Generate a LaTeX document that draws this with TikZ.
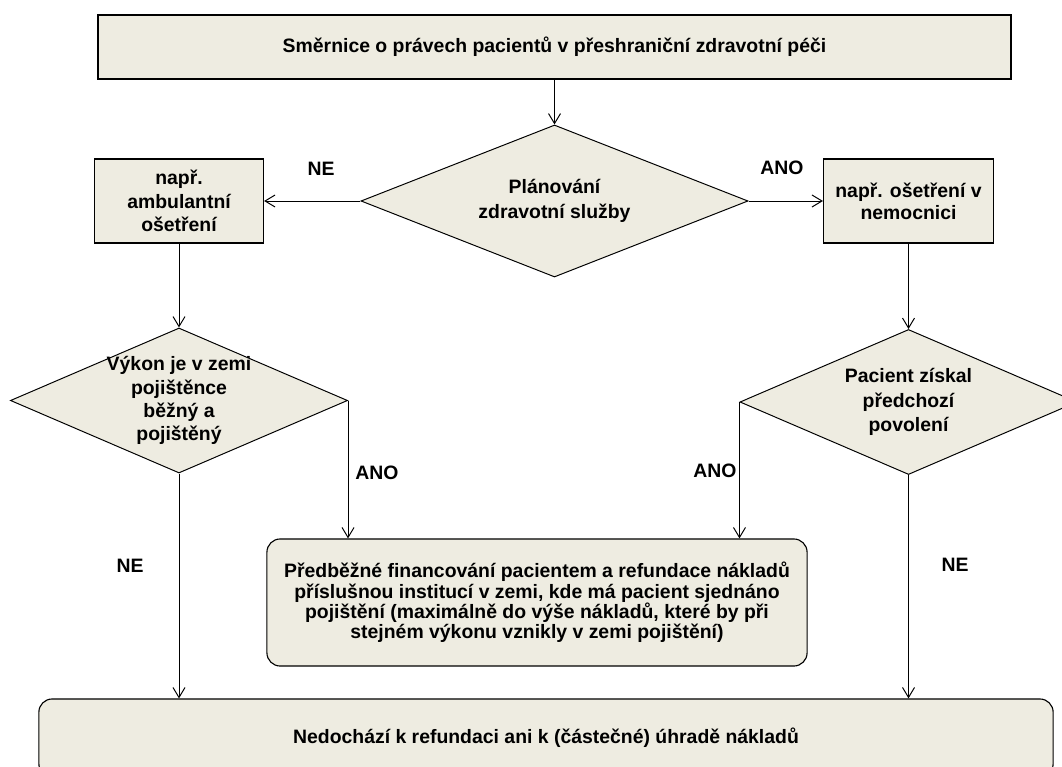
\documentclass[tikz,border=0pt]{standalone}
\usepackage{fontspec}
\setmainfont{Liberation Sans}
\usepackage{xcolor}
\usepackage{tikz}
\usetikzlibrary{shapes.geometric,arrows.meta}
\definecolor{boxfill}{HTML}{EEECE1}

\begin{document}
\begin{tikzpicture}[x=0.025cm, y=-0.025cm,
  every node/.style={font=\bfseries\fontsize{13.8}{16.5}\selectfont, align=center},
  box/.style={draw, fill=boxfill, line width=0.8pt, inner sep=0pt},
  choice/.style={diamond, draw, fill=boxfill, line width=0.7pt, inner sep=0pt,
    font=\bfseries\fontsize{13.8}{17.5}\selectfont},
  answer/.style={inner sep=0pt},
  flow/.style={line width=0.7pt, -{Straight Barb[length=0.25cm,width=0.3cm]}}]
  \useasboundingbox (0,0) rectangle (1062,767);
  \clip (0,0) rectangle (1062,767);

  % Top level
  \node[box, line width=1.2pt, minimum width=22.825cm, minimum height=1.6cm] (smernice) at (554.5,47)
    {Směrnice o právech pacientů v přeshraniční zdravotní péči};
  \node[choice, shape aspect=2.55, minimum width=9.675cm, minimum height=3.8cm] (planovani) at (554.5,201)
    {Plánování\\zdravotní služby};
  \node[box, minimum width=4.225cm, minimum height=2.1cm] (ambulantni) at (179,201)
    {např.\\ambulantní\\ošetření};
  \node[box, minimum width=4.25cm, minimum height=2.1cm,
    font=\bfseries\fontsize{13.8}{15.5}\selectfont] (nemocnice) at (908.5,201)
    {např. ošetření v\\nemocnici};

  % Decisions
  \node[choice, shape aspect=2.32, inner sep=-6pt, minimum width=8.425cm, minimum height=3.625cm,
    font=\bfseries\fontsize{13.8}{16.5}\selectfont] (vykon) at (179,400.5)
    {Výkon je v zemi\\pojištěnce\\běžný a\\pojištěný};
  \node[choice, shape aspect=2.32, minimum width=8.425cm, minimum height=3.625cm] (povoleni) at (908.5,402)
    {Pacient získal\\předchozí\\povolení};

  % Outcomes
  \node[box, rounded corners=0.33cm, minimum width=13.5cm, minimum height=3.175cm,
    font=\bfseries\fontsize{13.8}{14.5}\selectfont] (refundace) at (537,602.5)
    {Předběžné financování pacientem a refundace nákladů\\
     příslušnou institucí v zemi, kde má pacient sjednáno\\
     pojištění (maximálně do výše nákladů, které by při\\
     stejném výkonu vznikly v zemi pojištění)};
  \node[box, rounded corners=0.33cm, minimum width=25.35cm, minimum height=1.95cm] (neuhrada) at (546,738)
    {Nedochází k refundaci ani k (částečné) úhradě nákladů};

  % Answers
  \node[answer] (ne1) at (321,169) {NE};
  \node[answer] (ano1) at (782,168) {ANO};
  \node[answer] (ano2) at (377,473) {ANO};
  \node[answer] (ano3) at (715,471) {ANO};
  \node[answer] (ne2) at (130,566) {NE};
  \node[answer] (ne3) at (955,565) {NE};

  % Connectors
  \draw[flow] (smernice.south) -- (planovani.north);
  \draw[flow] (planovani.west) -- (ambulantni.east);
  \draw[flow] (planovani.east) -- (nemocnice.west);
  \draw[flow] (ambulantni.south) -- (vykon.north);
  \draw[flow] (nemocnice.south) -- (povoleni.north);
  \draw[flow] (vykon.east) -- (vykon.east |- refundace.north);
  \draw[flow] (povoleni.west) -- (povoleni.west |- refundace.north);
  \draw[flow] (vykon.south) -- (vykon.south |- neuhrada.north);
  \draw[flow] (povoleni.south) -- (povoleni.south |- neuhrada.north);
\end{tikzpicture}
\end{document}
